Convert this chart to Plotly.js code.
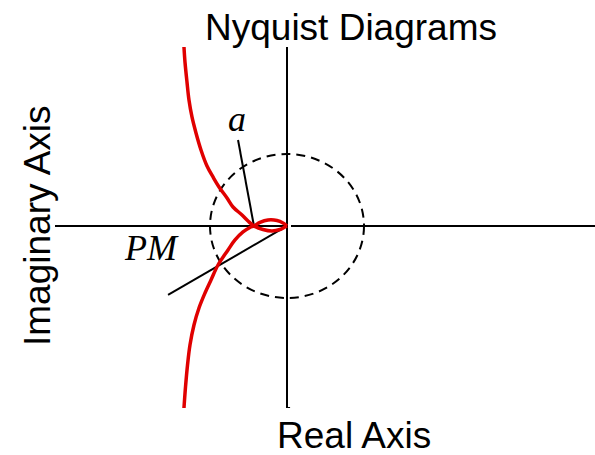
<!DOCTYPE html>
<html>
<head>
<meta charset="utf-8">
<script src="https://cdn.plot.ly/plotly-3.0.1.min.js"></script>
<style>
  html, body { margin: 0; padding: 0; background: #fff; }
  #chart { width: 595px; height: 455px; }
</style>
</head>
<body>
<div id="chart"></div>
<script>
// Nyquist locus, positive-frequency branch: from the top, down to the
// real-axis crossing, then under the axis into the origin.
const upperRe = [-1.338, -1.325, -1.299, -1.273, -1.234, -1.182, -1.117, -1.039, -0.961, -0.883,
                 -0.779, -0.701, -0.584, -0.506, -0.429, -0.312, -0.195, -0.091, -0.026, 0];
const upperIm = [2.486, 2.278, 2.0, 1.75, 1.514, 1.292, 1.056, 0.833, 0.681, 0.542,
                 0.389, 0.264, 0.153, 0.069, 0, -0.049, -0.069, -0.049, -0.014, 0];

// Negative-frequency branch: from the bottom, up to the crossing, then
// over the axis into the origin.
const lowerRe = [-1.338, -1.318, -1.292, -1.260, -1.208, -1.143, -1.065, -0.987, -0.896, -0.766,
                 -0.675, -0.571, -0.481, -0.429, -0.351, -0.247, -0.130, -0.052, 0];
const lowerIm = [-2.528, -2.236, -1.931, -1.653, -1.375, -1.139, -0.931, -0.750, -0.542, -0.333,
                 -0.194, -0.083, -0.021, 0, 0.049, 0.083, 0.076, 0.042, 0];

// Construction lines: "a" from the real-axis crossing, PM from the origin
// through the unit-circle crossing.
const aLineRe = [-0.429, -0.636];
const aLineIm = [0, 1.194];
const pmLineRe = [0, -1.545];
const pmLineIm = [0, -0.958];

// Axis lines of the diagram
const realAxisLeftRe = [-3.013, 0];
const realAxisRightRe = [0.052, 4.0];
const imagAxisRe = [0, 0, 0.04];
const imagAxisIm = [2.486, -2.528, -2.528];

// Unit circle radius
const unitRadius = 1;

// Text labels
const titleText = 'Nyquist Diagrams';
const xTitleText = 'Real Axis';
const yTitleText = 'Imaginary Axis';
const aLabel = 'a';
const pmLabel = 'PM';
const aLabelPos = [-0.649, 1.49];
const pmLabelPos = [-1.766, -0.31];

const black = '#000000';
const red = '#e00000';
const sans = 'Liberation Sans, Arial, Helvetica, sans-serif';
const serif = 'Liberation Serif, Times New Roman, serif';

const traces = [
  { x: realAxisLeftRe, y: [0, 0], mode: 'lines', line: { color: black, width: 2 }, hoverinfo: 'skip' },
  { x: realAxisRightRe, y: [0, 0], mode: 'lines', line: { color: black, width: 2 }, hoverinfo: 'skip' },
  { x: imagAxisRe, y: imagAxisIm, mode: 'lines', line: { color: black, width: 2 }, hoverinfo: 'skip' },
  { x: aLineRe, y: aLineIm, mode: 'lines', line: { color: black, width: 2 }, hoverinfo: 'skip' },
  { x: pmLineRe, y: pmLineIm, mode: 'lines', line: { color: black, width: 2 }, hoverinfo: 'skip' },
  { x: upperRe, y: upperIm, mode: 'lines', line: { color: red, width: 3.5, shape: 'spline', smoothing: 1 } },
  { x: lowerRe, y: lowerIm, mode: 'lines', line: { color: red, width: 3.5, shape: 'spline', smoothing: 1 } }
];

const layout = {
  width: 595,
  height: 455,
  margin: { l: 55, r: 0, t: 47, b: 47, pad: 0 },
  paper_bgcolor: '#ffffff',
  plot_bgcolor: '#ffffff',
  showlegend: false,
  title: {
    text: titleText,
    font: { family: sans, size: 37, color: black },
    x: 351 / 595, xref: 'container', xanchor: 'center',
    y: 1 - 27 / 455, yref: 'container', yanchor: 'middle'
  },
  xaxis: {
    range: [-3.013, 4.0],
    showgrid: false, zeroline: false, showticklabels: false, ticks: '', showline: false,
    fixedrange: true
  },
  yaxis: {
    range: [-2.528, 2.486],
    showgrid: false, zeroline: false, showticklabels: false, ticks: '', showline: false,
    fixedrange: true
  },
  shapes: [
    {
      type: 'circle', xref: 'x', yref: 'y',
      x0: -unitRadius, x1: unitRadius, y0: -unitRadius, y1: unitRadius,
      line: { color: black, width: 2, dash: '9px,6px' },
      layer: 'below'
    }
  ],
  annotations: [
    {
      text: xTitleText, showarrow: false,
      xref: 'paper', yref: 'paper',
      x: (354 - 55) / 540, y: (408 - 458) / 361,
      xanchor: 'center', yanchor: 'bottom',
      font: { family: sans, size: 37, color: black }
    },
    {
      text: yTitleText, showarrow: false, textangle: -90,
      xref: 'paper', yref: 'paper',
      x: (37 - 55) / 540, y: (408 - 226) / 361,
      xanchor: 'center', yanchor: 'middle',
      font: { family: sans, size: 37, color: black }
    },
    {
      text: '<i>' + aLabel + '</i>', showarrow: false,
      xref: 'x', yref: 'y', x: aLabelPos[0], y: aLabelPos[1],
      xanchor: 'center', yanchor: 'middle',
      font: { family: serif, size: 36, color: black }
    },
    {
      text: '<i>' + pmLabel + '</i>', showarrow: false,
      xref: 'x', yref: 'y', x: pmLabelPos[0], y: pmLabelPos[1],
      xanchor: 'center', yanchor: 'middle',
      font: { family: serif, size: 36, color: black }
    }
  ]
};

Plotly.newPlot('chart', traces, layout, { displayModeBar: false, staticPlot: true });
</script>
</body>
</html>
